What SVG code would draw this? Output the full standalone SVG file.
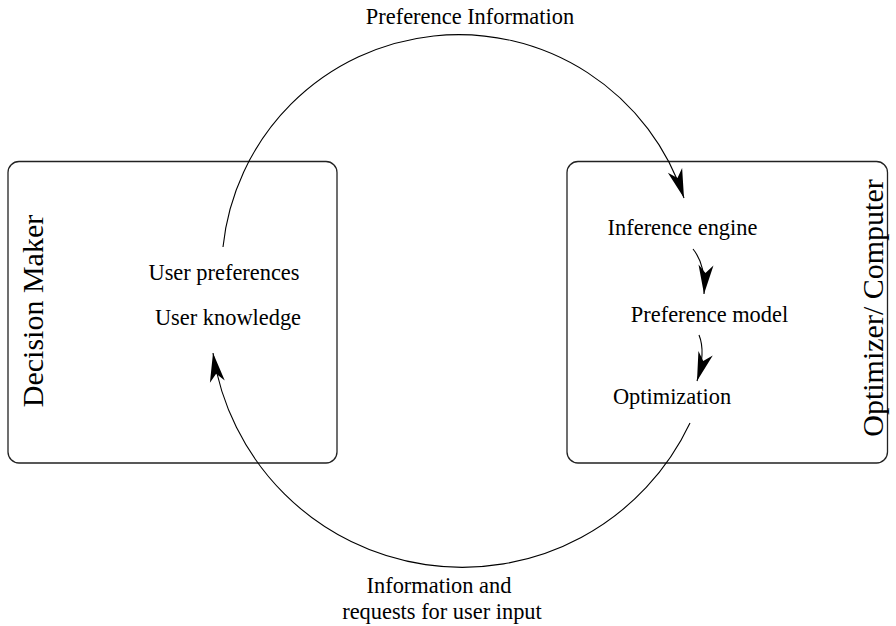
<svg xmlns="http://www.w3.org/2000/svg" width="896" height="626" viewBox="0 0 896 626">
<style>
.box{fill:none;stroke:#222;stroke-width:1.3}
.t{font-family:"Liberation Serif","Times New Roman",serif;font-size:22.4px;fill:#000}
.big{font-family:"Liberation Serif","Times New Roman",serif;font-size:30px;fill:#000}
.c{fill:none;stroke:#000;stroke-width:1.1}
</style>
<defs>
<marker id="ah" markerUnits="userSpaceOnUse" viewBox="-30 -10 32 20" markerWidth="32" markerHeight="20" refX="0" refY="0" orient="auto">
<path d="M0,0 L-29,-7.5 L-21,0 L-29,7.5 Z" fill="#000"/>
</marker>
</defs>
<rect width="896" height="626" fill="#fff"/>
<g id="decision-maker">
<rect class="box" x="8" y="161.5" width="329" height="301.5" rx="11"/>
<text class="big" transform="translate(43,311) rotate(-90)" text-anchor="middle">Decision Maker</text>
<text class="t" x="224" y="280" text-anchor="middle">User preferences</text>
<text class="t" x="228" y="325" text-anchor="middle">User knowledge</text>
</g>
<g id="optimizer">
<rect class="box" x="567" y="161.5" width="320.5" height="301.5" rx="11"/>
<text class="big" transform="translate(883,308) rotate(-90)" text-anchor="middle">Optimizer/  Computer</text>
<text class="t" x="682.5" y="235" text-anchor="middle">Inference engine</text>
<text class="t" x="709.5" y="322" text-anchor="middle">Preference model</text>
<text class="t" x="672" y="404" text-anchor="middle">Optimization</text>
</g>
<g id="connectors">
<path class="c" d="M223,247 A237,237 0 0 1 684,198" marker-end="url(#ah)"/>
<path class="c" d="M690,423 A252,252 0 0 1 213,353" marker-end="url(#ah)"/>
<path class="c" d="M693,249 Q706,265 704,294" marker-end="url(#ah)"/>
<path class="c" d="M699,335 Q706,352 697,381" marker-end="url(#ah)"/>
</g>
<g id="labels">
<text class="t" x="470" y="24" text-anchor="middle">Preference Information</text>
<text class="t" x="439" y="593" text-anchor="middle">Information and</text>
<text class="t" x="442" y="619" text-anchor="middle">requests for user input</text>
</g>
</svg>
